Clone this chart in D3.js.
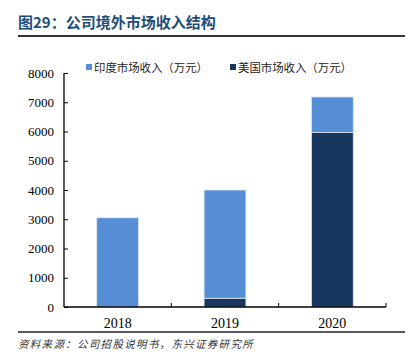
<!DOCTYPE html>
<html><head><meta charset="utf-8">
<script src="https://cdn.jsdelivr.net/npm/d3@7"></script>
<style>body{margin:0;background:#fff}svg{display:block}</style>
</head><body>
<svg id="c" width="413" height="364"></svg>
<script>
const categories = ["2018", "2019", "2020"];
const indiaValues = [3050, 3700, 1210];
const usaValues = [0, 300, 5970];
const seriesNames = ["印度市场收入（万元）", "美国市场收入（万元）"];
const yTicks = [0, 1000, 2000, 3000, 4000, 5000, 6000, 7000, 8000];
const title = "图29：公司境外市场收入结构";
const source = "资料来源：公司招股说明书，东兴证券研究所";

const colors = {india: "#558ED5", usa: "#17375E"};
const svg = d3.select("#c");
const cjk = "'Noto Sans CJK SC', 'Noto Sans', sans-serif";
const serif = "'Liberation Serif', 'DejaVu Serif', serif";

// title
svg.append("text").attr("x", 18).attr("y", 28).text(title)
  .attr("font-family", cjk).attr("font-size", 15).attr("font-weight", "bold").attr("fill", "#1F4E79");
svg.append("line").attr("x1", 18).attr("x2", 405).attr("y1", 36).attr("y2", 36)
  .attr("stroke", "#333").attr("stroke-width", 2);

const x0 = 64, x1 = 386, yTop = 73, yBot = 307;
const x = d3.scaleBand().domain(categories).range([x0, x1]).paddingInner(0.61).paddingOuter(0.305);
const y = d3.scaleLinear().domain([0, 8000]).range([yBot, yTop]);

const data = categories.map((c, i) => ({cat: c, usa: usaValues[i], india: indiaValues[i]}));
const stack = d3.stack().keys(["usa", "india"])(data);

svg.append("g").selectAll("g").data(stack).join("g")
  .attr("fill", d => colors[d.key])
  .selectAll("rect").data(d => d).join("rect")
  .attr("x", d => x(d.data.cat))
  .attr("width", x.bandwidth())
  .attr("y", d => y(d[1]))
  .attr("height", d => Math.max(0, y(d[0]) - y(d[1])))
  .attr("stroke", d => (d[1] - d[0]) > 0 ? "#dfe6ee" : "none")
  .attr("stroke-width", 0.8);

// y axis
const yAxis = svg.append("g").attr("transform", `translate(${x0},0)`)
  .call(d3.axisLeft(y).tickValues(yTicks).tickSize(-4).tickPadding(10).tickFormat(d3.format("d")));
yAxis.select(".domain").attr("stroke", "#000").attr("stroke-width", 1.3).attr("d", `M0,${yTop}V${yBot}`);
yAxis.selectAll("line").attr("stroke", "#000");
yAxis.selectAll("text").attr("font-family", serif).attr("font-size", 13).attr("fill", "#000");

// x axis
const xg = svg.append("g").attr("transform", `translate(0,${yBot})`);
xg.append("line").attr("x1", x0).attr("x2", x1).attr("y1", 0).attr("y2", 0).attr("stroke", "#000").attr("stroke-width", 1.5);
const step = x.step();
const bounds = categories.map((c, i) => x0 + (i + 1) * step);
xg.selectAll("line.t").data(bounds).join("line").attr("class", "t")
  .attr("x1", d => d).attr("x2", d => d).attr("y1", 0).attr("y2", -4).attr("stroke", "#000");
xg.selectAll("text").data(categories).join("text")
  .attr("x", d => x(d) + x.bandwidth() / 2).attr("y", 21).attr("text-anchor", "middle")
  .attr("font-family", serif).attr("font-size", 14).attr("fill", "#000").text(d => d);

// legend
const legX = [86, 230];
const leg = svg.append("g");
seriesNames.forEach((n, i) => {
  leg.append("rect").attr("x", legX[i]).attr("y", 64).attr("width", 6).attr("height", 6)
    .attr("fill", i === 0 ? colors.india : colors.usa);
  leg.append("text").attr("x", legX[i] + 8).attr("y", 71.5).text(n)
    .attr("font-family", cjk).attr("font-size", 11.4).attr("fill", "#222");
});

// bottom
svg.append("line").attr("x1", 18).attr("x2", 405).attr("y1", 332).attr("y2", 332)
  .attr("stroke", "#222").attr("stroke-width", 1.5);
svg.append("text").attr("x", 18).attr("y", 348).text(source)
  .attr("font-family", cjk).attr("font-size", 10.5).attr("font-style", "italic")
  .attr("letter-spacing", 1.3).attr("fill", "#333");
</script>
</body></html>
